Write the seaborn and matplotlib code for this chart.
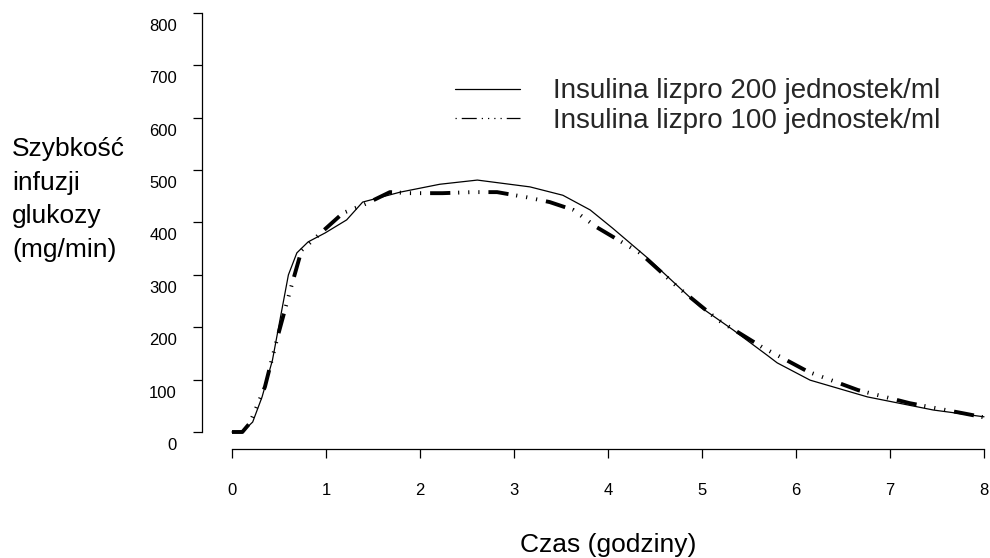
import matplotlib
matplotlib.use("Agg")
import matplotlib.pyplot as plt
from matplotlib.lines import Line2D
from matplotlib.transforms import ScaledTranslation
import pandas as pd
import seaborn as sns

# values
label_200 = "Insulina lizpro 200 jednostek/ml"
label_100 = "Insulina lizpro 100 jednostek/ml"

hours_200 = [0.0, 0.12, 0.22, 0.32, 0.43, 0.53, 0.60, 0.69, 0.81, 0.99, 1.22, 1.39,
             1.79, 2.21, 2.61, 3.17, 3.52, 3.81, 4.05, 4.41, 4.98, 5.33, 5.69, 5.80,
             6.15, 6.76, 7.46, 8.0]
rate_200 = [0, 2, 19, 67, 137, 233, 300, 342, 363, 380, 405, 439,
            458, 473, 481, 468, 452, 424, 389, 334, 239, 195, 147, 132,
            99, 67, 42, 29]

hours_100 = [0.0, 0.11, 0.19, 0.35, 0.49, 0.62, 0.74, 1.18, 1.44, 1.68, 1.89, 2.24,
             2.56, 2.82, 3.14, 3.38, 3.63, 3.88, 4.34, 4.74, 5.17, 5.64, 6.13, 6.66,
             7.21, 7.77, 8.0]
rate_100 = [0, 0, 17, 86, 185, 271, 347, 418, 437, 458, 456, 456,
            458, 458, 448, 439, 424, 391, 342, 277, 214, 162, 115, 80,
            55, 36, 28]

x_ticks = [0, 1, 2, 3, 4, 5, 6, 7, 8]
y_ticks = [0, 100, 200, 300, 400, 500, 600, 700, 800]

sns.set_theme(style="ticks")
plt.rcParams["font.family"] = ["Liberation Sans", "DejaVu Sans"]

df = pd.concat([
    pd.DataFrame({"hours": hours_200, "rate": rate_200, "series": label_200}),
    pd.DataFrame({"hours": hours_100, "rate": rate_100, "series": label_100}),
])

dash_100 = (5.2, 2.0, 0.3, 2.3, 0.3, 2.3, 0.3, 2.3)

fig = plt.figure(figsize=(9.9, 5.58), dpi=100)
ax = fig.add_axes([232 / 990, 126 / 558, 752 / 990, 419 / 558])

sns.lineplot(
    data=df, x="hours", y="rate",
    hue="series", style="series", size="series",
    palette={label_200: "black", label_100: "black"},
    sizes={label_200: 0.9, label_100: 2.8},
    dashes={label_200: "", label_100: dash_100},
    estimator=None, sort=False, legend=False, ax=ax,
)
for line in ax.lines:
    line.set_clip_on(False)

ax.set_xlim(0, 8)
ax.set_ylim(0, 800)
ax.set_xticks(x_ticks)
ax.set_yticks(y_ticks)

# spines pulled away from the data area, like the original
sns.despine(ax=ax)
ax.spines["left"].set_position(("outward", 21.6))
ax.spines["bottom"].set_position(("outward", 12.2))
for side in ["left", "bottom"]:
    ax.spines[side].set_color("black")
    ax.spines[side].set_linewidth(0.9)

ax.tick_params(axis="both", direction="out", length=6.5, width=0.9,
               color="black", labelsize=12, labelcolor="black")
ax.tick_params(axis="y", pad=11.5)
ax.tick_params(axis="x", pad=18)

# y tick labels sit a bit below their ticks in the reference
for label in ax.get_yticklabels():
    label.set_transform(label.get_transform()
                        + ScaledTranslation(0, -0.12, fig.dpi_scale_trans))

ax.set_xlabel("Czas (godziny)", fontsize=19, color="black")
ax.xaxis.set_label_coords(0.5, -0.27)
ax.xaxis.label.set_verticalalignment("center")

ax.set_ylabel("Szybkość\ninfuzji\nglukozy\n(mg/min)", fontsize=19, color="black",
              rotation=0, ha="left", va="center", linespacing=1.5)
ax.yaxis.set_label_coords(-0.2926, 0.555)

handles = [
    Line2D([], [], color="black", lw=0.9),
    Line2D([], [], color="black", lw=0.9,
           dashes=(1, 4, 12, 4, 1, 4, 1, 4, 1, 4)),
]
ax.legend(handles, [label_200, label_100], loc="upper left",
          bbox_to_anchor=(455 / 990, 1 - 78.5 / 558), bbox_transform=fig.transFigure,
          frameon=False, fontsize=20, borderpad=0, borderaxespad=0,
          handlelength=2.34, handletextpad=1.19, labelspacing=0.12)

ax.grid(False)
fig.savefig("out.png", dpi=100, facecolor="white")
